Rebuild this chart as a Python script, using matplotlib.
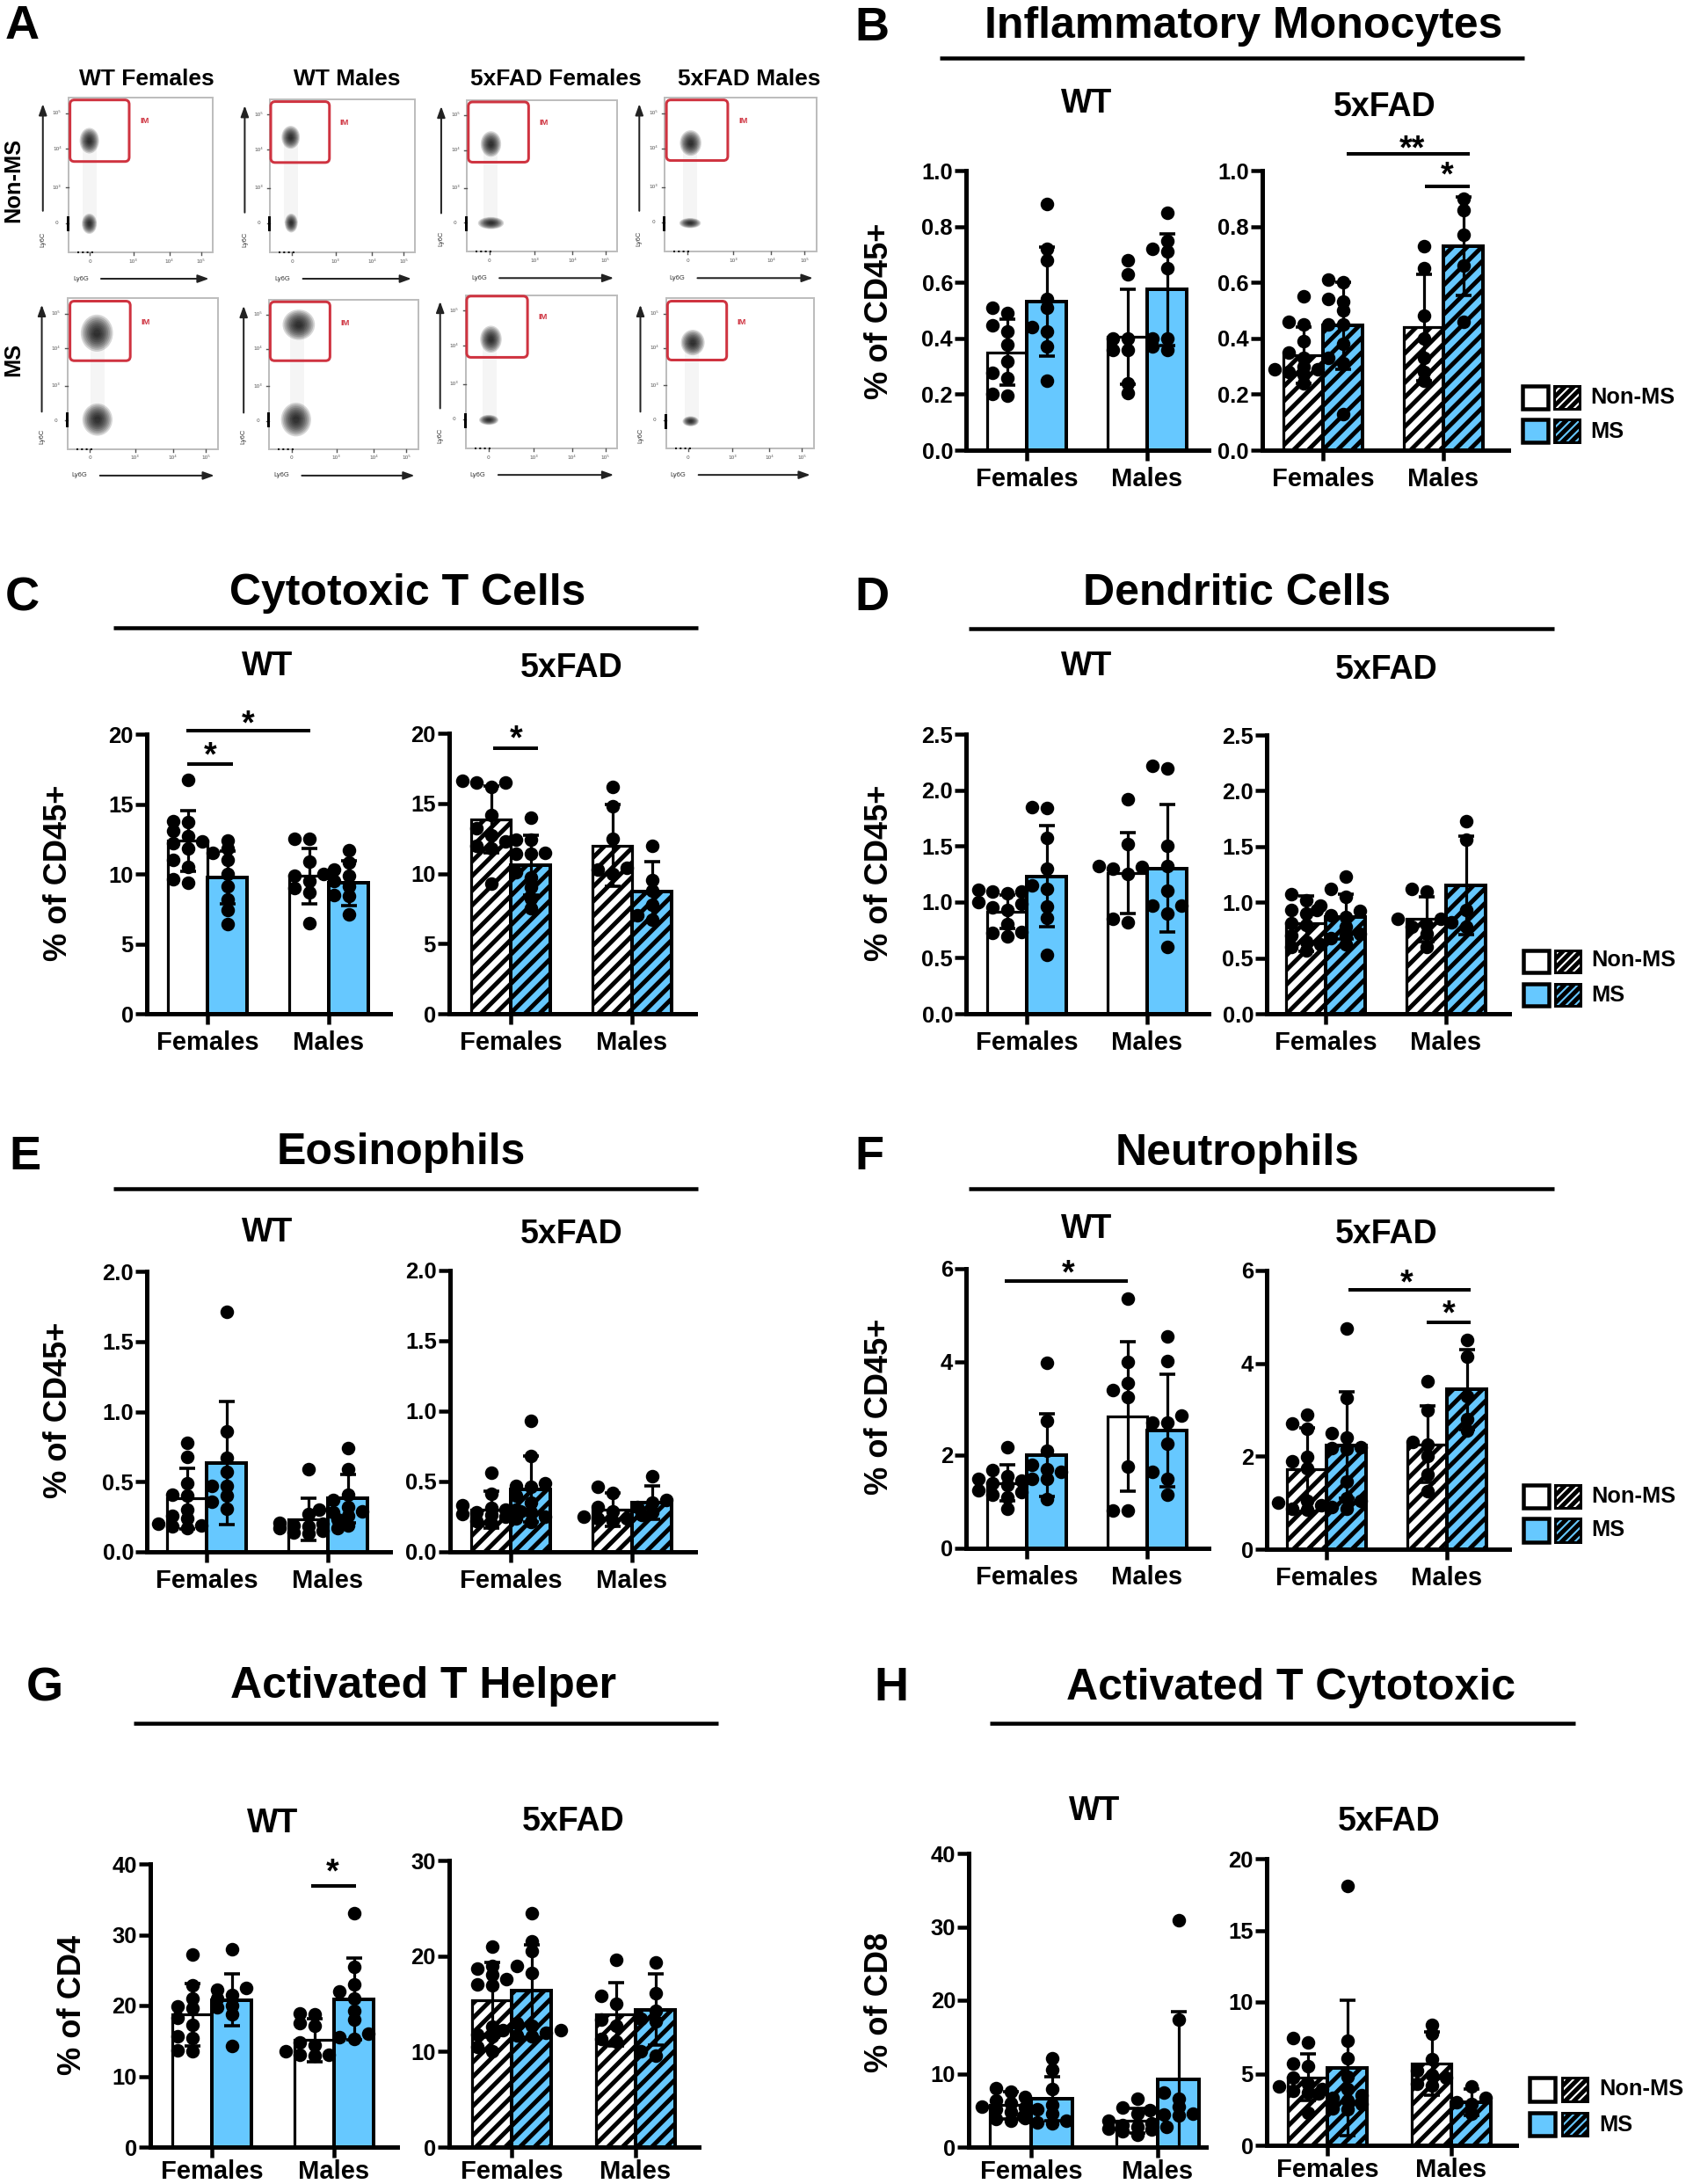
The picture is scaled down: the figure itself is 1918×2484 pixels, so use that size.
import matplotlib
matplotlib.use("Agg")
import matplotlib.pyplot as plt
from matplotlib.patches import Rectangle, Ellipse, FancyBboxPatch

W, H, DPI = 1918, 2484, 150
PT = 72 / DPI
plt.rcParams.update({'font.family': ['Liberation Sans', 'DejaVu Sans'], 'font.weight': 'bold',
                     'hatch.linewidth': 5 * PT, 'hatch.color': 'black'})
BLUE = '#66C8FF'

categories = ['Females', 'Males']
ticks_1 = [0.0, 0.2, 0.4, 0.6, 0.8, 1.0]
ticks_20 = [0, 5, 10, 15, 20]
ticks_25 = [0.0, 0.5, 1.0, 1.5, 2.0, 2.5]
ticks_2 = [0.0, 0.5, 1.0, 1.5, 2.0]
ticks_6 = [0, 2, 4, 6]
ticks_40 = [0, 10, 20, 30, 40]
ticks_30 = [0, 10, 20, 30]

# Each panel: Females Non-MS, Females MS, Males Non-MS, Males MS
B_wt_mean = [0.35, 0.53, 0.405, 0.575]
B_wt_sd = [0.117, 0.195, 0.17, 0.20]
B_wt_pts = [[0.49, 0.425, 0.377, 0.317, 0.277, 0.257, 0.194, 0.202, 0.51, 0.447],
            [0.88, 0.72, 0.68, 0.54, 0.51, 0.425, 0.44, 0.37, 0.25],
            [0.68, 0.63, 0.40, 0.40, 0.36, 0.36, 0.24, 0.205],
            [0.85, 0.75, 0.71, 0.72, 0.65, 0.40, 0.40, 0.37, 0.36]]
B_fad_mean = [0.34, 0.445, 0.44, 0.73]
B_fad_sd = [0.10, 0.155, 0.19, 0.175]
B_fad_pts = [[0.55, 0.46, 0.45, 0.39, 0.35, 0.33, 0.30, 0.29, 0.29, 0.28, 0.27, 0.24],
             [0.61, 0.60, 0.54, 0.53, 0.50, 0.45, 0.45, 0.38, 0.33, 0.31, 0.13],
             [0.73, 0.65, 0.48, 0.40, 0.33, 0.28, 0.25],
             [0.90, 0.86, 0.77, 0.66, 0.46]]

C_wt_mean = [12.36, 9.76, 9.85, 9.35]
C_wt_sd = [2.15, 1.9, 2.0, 1.6]
C_wt_pts = [[16.7, 13.8, 13.7, 13.1, 12.7, 12.3, 12.2, 11.8, 11.0, 10.5, 9.6, 9.4],
            [12.4, 11.8, 11.5, 11.0, 10.0, 9.1, 8.2, 7.4, 6.4],
            [12.5, 12.5, 10.9, 10.0, 9.9, 9.5, 9.0, 8.7, 6.5],
            [11.7, 10.8, 10.3, 9.9, 9.5, 9.1, 8.5, 8.4, 7.1]]
C_fad_mean = [13.85, 10.6, 12.0, 8.7]
C_fad_sd = [2.4, 2.15, 2.9, 2.15]
C_fad_pts = [[16.6, 16.5, 16.5, 16.2, 14.2, 13.2, 12.7, 12.3, 12.0, 11.8, 9.3],
             [14.0, 12.4, 12.4, 11.5, 11.4, 11.4, 10.1, 9.7, 9.0, 8.2, 7.5],
             [16.2, 14.8, 12.5, 10.4, 10.3, 10.0],
             [12.0, 9.5, 8.8, 7.8, 7.0, 6.7]]

D_wt_mean = [0.91, 1.23, 1.26, 1.30]
D_wt_sd = [0.15, 0.45, 0.36, 0.57]
D_wt_pts = [[1.11, 1.09, 1.09, 1.08, 1.0, 0.98, 0.95, 0.93, 0.8, 0.73, 0.72, 0.69],
            [1.85, 1.84, 1.57, 1.3, 1.15, 1.12, 0.96, 0.86, 0.53],
            [1.92, 1.52, 1.32, 1.31, 1.3, 1.25, 0.85, 0.82],
            [2.22, 2.19, 1.5, 1.32, 1.1, 0.97, 0.97, 0.9, 0.6]]
D_fad_mean = [0.81, 0.87, 0.85, 1.15]
D_fad_sd = [0.25, 0.20, 0.20, 0.44]
D_fad_pts = [[1.07, 1.02, 0.97, 0.93, 0.9, 0.81, 0.8, 0.7, 0.65, 0.62, 0.6, 0.57],
             [1.23, 1.12, 1.05, 0.93, 0.92, 0.88, 0.87, 0.78, 0.72, 0.7, 0.68, 0.62],
             [1.12, 1.1, 0.85, 0.85, 0.8, 0.78, 0.72, 0.6],
             [1.73, 1.56, 0.93, 0.82, 0.78]]

E_wt_mean = [0.38, 0.635, 0.23, 0.38]
E_wt_sd = [0.215, 0.44, 0.15, 0.17]
E_wt_pts = [[0.78, 0.68, 0.49, 0.41, 0.4, 0.3, 0.26, 0.24, 0.2, 0.19, 0.18, 0.17],
            [1.71, 0.86, 0.67, 0.57, 0.47, 0.47, 0.4, 0.36, 0.31],
            [0.59, 0.27, 0.23, 0.21, 0.2, 0.19, 0.18, 0.17, 0.17, 0.15, 0.14, 0.13],
            [0.74, 0.59, 0.41, 0.37, 0.32, 0.3, 0.29, 0.28, 0.26, 0.19]]
E_fad_mean = [0.30, 0.445, 0.30, 0.35]
E_fad_sd = [0.13, 0.235, 0.12, 0.12]
E_fad_pts = [[0.56, 0.41, 0.33, 0.31, 0.3, 0.29, 0.28, 0.27, 0.26, 0.25, 0.22, 0.2],
             [0.93, 0.68, 0.49, 0.47, 0.46, 0.4, 0.35, 0.3, 0.28, 0.25, 0.24, 0.21],
             [0.46, 0.42, 0.32, 0.29, 0.26, 0.25, 0.24, 0.24, 0.22],
             [0.54, 0.37, 0.35, 0.32, 0.28]]

F_wt_mean = [1.4, 2.0, 2.83, 2.53]
F_wt_sd = [0.39, 0.88, 1.6, 1.2]
F_wt_pts = [[2.17, 1.67, 1.55, 1.5, 1.45, 1.4, 1.35, 1.25, 1.2, 1.15, 1.1, 0.85],
            [3.98, 2.74, 2.1, 1.8, 1.7, 1.65, 1.5, 1.5, 1.05],
            [5.35, 4.0, 3.55, 3.4, 3.25, 1.75, 0.82, 0.82],
            [4.55, 4.02, 2.85, 2.7, 2.7, 2.25, 1.65, 1.5, 1.15]]
F_fad_mean = [1.72, 2.24, 2.26, 3.44]
F_fad_sd = [0.9, 1.14, 0.82, 0.86]
F_fad_pts = [[2.9, 2.7, 2.6, 1.98, 1.9, 1.75, 1.05, 1.0, 0.95, 0.88, 0.85],
             [4.75, 3.25, 2.5, 2.4, 2.2, 2.18, 2.15, 1.45, 1.1, 1.05, 0.9, 0.88],
             [3.62, 3.0, 2.3, 2.25, 2.0, 1.6, 1.25],
             [4.5, 4.15, 3.3, 2.8, 2.55]]

G_wt_mean = [18.7, 20.8, 15.1, 20.9]
G_wt_sd = [4.4, 3.7, 3.0, 5.8]
G_wt_pts = [[27.2, 22.8, 21.0, 19.9, 19.6, 18.3, 17.3, 15.7, 15.4, 13.7, 13.6],
            [28.0, 22.5, 22.2, 21.5, 21.0, 20.0, 19.8, 18.7, 14.3],
            [18.9, 18.7, 17.5, 17.2, 14.8, 14.4, 13.5, 13.1, 13.0, 12.9],
            [33.1, 25.5, 23.0, 22.0, 21.0, 19.2, 18.0, 16.0, 15.5, 15.3]]
G_fad_mean = [15.4, 16.35, 13.9, 14.4]
G_fad_sd = [3.9, 4.85, 3.3, 3.7]
G_fad_pts = [[21.0, 19.0, 18.7, 18.0, 17.6, 17.0, 16.9, 12.6, 11.8, 11.6, 10.5, 10.0],
             [24.5, 21.5, 20.5, 19.0, 18.2, 13.0, 12.7, 12.2, 12.2, 12.0, 11.7, 11.6],
             [19.6, 15.8, 15.0, 13.3, 12.7, 11.3, 11.0],
             [19.3, 16.1, 14.3, 13.4, 13.2, 10.0, 9.6]]

H_wt_mean = [5.7, 6.6, 3.6, 9.2]
H_wt_sd = [1.9, 3.0, 1.7, 9.3]
H_wt_pts = [[8.0, 7.5, 6.8, 6.3, 6.0, 5.5, 5.4, 5.1, 4.8, 4.0, 3.8, 3.6],
            [12.1, 10.5, 7.9, 5.8, 5.2, 4.5, 4.2, 3.6, 3.4, 3.2],
            [6.6, 5.4, 4.5, 3.6, 3.2, 3.0, 2.8, 2.7, 2.5, 2.4, 2.2, 1.7],
            [30.9, 17.4, 7.4, 6.6, 5.5, 5.0, 4.5, 4.4, 4.3]]
H_fad_mean = [4.75, 5.4, 5.7, 3.0]
H_fad_sd = [1.65, 4.7, 2.2, 0.9]
H_fad_pts = [[7.5, 7.2, 5.7, 5.5, 4.7, 4.3, 4.1, 3.9, 3.8, 3.7, 2.3],
             [18.1, 7.3, 6.1, 4.8, 3.9, 3.6, 3.5, 3.3, 3.1, 2.9, 2.6, 2.5],
             [8.4, 7.8, 6.0, 5.2, 4.9, 4.7, 4.3, 4.2],
             [4.1, 3.3, 3.0, 2.9, 2.2]]

# Flow cytometry panel A, read in zoomed-crop units
ZX, ZY = 1.633, 2.613
flow_frames = [(127, 395, 290, 750), (502, 771, 295, 750), (867, 1147, 297, 748), (1235, 1517, 290, 748),
               (125, 405, 887, 1335), (500, 777, 890, 1335), (865, 1147, 877, 1333), (1237, 1512, 887, 1333)]
flow_gates = [(130, 240, 297, 480), (503, 612, 302, 483), (870, 982, 303, 482), (1238, 1352, 297, 477),
              (130, 242, 895, 1072), (502, 613, 897, 1072), (867, 980, 880, 1062), (1240, 1350, 895, 1070)]
flow_upper = [(166, 418, 18, 38), (540, 408, 17, 34), (912, 428, 19, 38), (1283, 425, 20, 38),
              (180, 990, 30, 55), (555, 965, 30, 45), (912, 1008, 20, 40), (1287, 1018, 22, 38)]
flow_lower = [(166, 665, 14, 30), (541, 663, 12, 28), (912, 663, 24, 18), (1282, 663, 20, 15),
              (181, 1247, 28, 48), (550, 1247, 28, 50), (908, 1248, 18, 15), (1283, 1252, 15, 15)]
flow_cols = ['WT Females', 'WT Males', '5xFAD Females', '5xFAD Males']
flow_col_x = [273, 645, 1033, 1392]
flow_rows = ['Non-MS', 'MS']
flow_row_y = [535, 1068]


def swarm(values, scale, slot=16.5, gap=9.0):
    placed = []
    for v in sorted(values):
        best, best_d = 0, -1.0
        for s in (0, -1, 1, -2, 2):
            same = [abs(pv - v) * scale for pv, ps in placed if ps == s]
            d = min(same) if same else 1e9
            if d >= gap:
                best, best_d = s, d
                break
            if d > best_d:
                best, best_d = s, d
        placed.append((v, best))
    return [p[0] for p in placed], [p[1] * slot for p in placed]


fig = plt.figure(figsize=(W / DPI, H / DPI), dpi=DPI, facecolor='white')


def subpanel(pts, mean, sd, yticks, x0, y0, ytop, ofs, sep, barw, xw, hatched):
    ax = fig.add_axes([x0 / W, 1 - y0 / H, xw / W, (y0 - ytop) / H])
    ax.patch.set_alpha(0)
    ymax = yticks[-1]
    ax.set_xlim(-ofs / sep, (xw - ofs) / sep)
    ax.set_ylim(0, ymax)
    scale = (y0 - ytop) / ymax
    wd = barw / sep
    for i, (vals, m, s) in enumerate(zip(pts, mean, sd)):
        group = i // 2
        ms = i % 2 == 1
        x = group + (wd / 2 if ms else -wd / 2)
        ax.bar(x, m, width=wd, facecolor=BLUE if ms else 'white', edgecolor='black',
               linewidth=(4.0 if ms else 3.2) * PT, hatch='///' if hatched else None, zorder=2)
        ax.errorbar(x, m, yerr=s, color='black', elinewidth=3.2 * PT, capsize=9 * PT,
                    capthick=3.6 * PT, zorder=3, clip_on=False)
        yy, off = swarm(vals, scale)
        ax.scatter([x + o / sep for o in off], yy, s=(15.5 * PT) ** 2, color='black',
                   linewidths=0, zorder=4, clip_on=False)
    for sp in ('top', 'right'):
        ax.spines[sp].set_visible(False)
    for sp in ('left', 'bottom'):
        ax.spines[sp].set_linewidth(5 * PT)
    ax.set_xticks([0, 1], categories)
    ax.set_yticks(yticks, ['%.1f' % t if ymax <= 2.5 else '%d' % t for t in yticks])
    ax.tick_params(axis='y', length=13 * PT, width=4.5 * PT, labelsize=12.3, pad=2 * PT)
    ax.tick_params(axis='x', length=12 * PT, width=4.5 * PT, labelsize=14,
                   pad=(2 if y0 > 2400 else 7) * PT)
    return ax


panels = [
    (B_wt_pts, B_wt_mean, B_wt_sd, ticks_1, 1099, 512, 194, 69, 137, 45, 276, False),
    (B_fad_pts, B_fad_mean, B_fad_sd, ticks_1, 1436, 512, 194, 69, 137, 45, 280, True),
    (C_wt_pts, C_wt_mean, C_wt_sd, ticks_20, 167, 1153, 835, 69, 138, 45, 277, False),
    (C_fad_pts, C_fad_mean, C_fad_sd, ticks_20, 511, 1153, 834, 70, 138, 45, 280, True),
    (D_wt_pts, D_wt_mean, D_wt_sd, ticks_25, 1099, 1153, 835, 69, 137, 45, 276, False),
    (D_fad_pts, D_fad_mean, D_fad_sd, ticks_25, 1441, 1153, 836, 67, 137, 45, 276, True),
    (E_wt_pts, E_wt_mean, E_wt_sd, ticks_2, 167, 1765, 1446, 68, 138, 45, 277, False),
    (E_fad_pts, E_fad_mean, E_fad_sd, ticks_2, 512, 1765, 1445, 69, 138, 45, 279, True),
    (F_wt_pts, F_wt_mean, F_wt_sd, ticks_6, 1099, 1761, 1443, 69, 137, 45, 276, False),
    (F_fad_pts, F_fad_mean, F_fad_sd, ticks_6, 1441, 1762, 1445, 68, 137, 45, 276, True),
    (G_wt_pts, G_wt_mean, G_wt_sd, ticks_40, 171, 2442, 2120, 70, 139, 45, 281, False),
    (G_fad_pts, G_fad_mean, G_fad_sd, ticks_30, 511, 2442, 2116, 71, 141, 45, 284, True),
    (H_wt_pts, H_wt_mean, H_wt_sd, ticks_40, 1102, 2442, 2108, 71, 144, 47, 270, False),
    (H_fad_pts, H_fad_mean, H_fad_sd, ticks_20, 1441, 2440, 2114, 69, 141, 45, 284, True),
]
for p in panels:
    subpanel(*p)

# Overlay in figure pixels for the annotations
ov = fig.add_axes([0, 0, 1, 1], zorder=10)
ov.set_xlim(0, W)
ov.set_ylim(H, 0)
ov.axis('off')
ov.patch.set_alpha(0)


def label(x, y, s, size, rotation=0, family=None, color='black', weight='bold', ha='center'):
    """Centre a capital-height label on (x, y) pixels."""
    px = size / PT
    dy = 0.36 * px
    if rotation == 90:
        ov.text(x, y, s, fontsize=size, rotation=90, ha='center', va='center', color=color, weight=weight)
    else:
        kw = {'family': family} if family else {}
        ov.text(x, y + dy, s, fontsize=size, ha=ha, va='baseline', color=color, weight=weight, **kw)


titles = [('Inflammatory Monocytes', 1415, 25, 1069, 1734, 66), ('Cytotoxic T Cells', 464, 670, 129, 794, 714),
          ('Dendritic Cells', 1407, 670, 1102, 1768, 715), ('Eosinophils', 456, 1306, 129, 794, 1352),
          ('Neutrophils', 1408, 1307, 1102, 1768, 1352), ('Activated T Helper', 482, 1913, 152, 817, 1960),
          ('Activated T Cytotoxic', 1469, 1915, 1126, 1792, 1960)]
for s, x, y, a, b, ly in titles:
    label(x, y, s, 24)
    ov.plot([a, b], [ly, ly], color='black', lw=4.5 * PT, solid_capstyle='butt')

letters = [('A', 25, 25), ('B', 992, 27), ('C', 25, 675), ('D', 992, 675), ('E', 28, 1310), ('F', 989, 1310),
           ('G', 51, 1915), ('H', 1014, 1915)]
for s, x, y in letters:
    label(x, y, s, 26)

groups = [('WT', 1236, 114), ('5xFAD', 1575, 119), ('WT', 304, 754), ('5xFAD', 650, 756), ('WT', 1236, 754),
          ('5xFAD', 1577, 759), ('WT', 304, 1398), ('5xFAD', 650, 1400), ('WT', 1236, 1394), ('5xFAD', 1577, 1400),
          ('WT', 310, 2071), ('5xFAD', 652, 2069), ('WT', 1245, 2057), ('5xFAD', 1580, 2068)]
for s, x, y in groups:
    label(x, y, s, 18)

ylabels = [('% of CD45+', 1000, 354), ('% of CD45+', 67, 993), ('% of CD45+', 1000, 993), ('% of CD45+', 67, 1604),
           ('% of CD45+', 1000, 1600), ('% of CD4', 83, 2280), ('% of CD8', 1000, 2277)]
for s, x, y in ylabels:
    label(x, y, s, 17.4, rotation=90)

sig = [(1532, 1672, 175, 1606, 165, '**'), (1621, 1672, 212, 1646, 195, '*'), (212, 353, 831, 282, 819, '*'),
       (213, 265, 869, 239, 855, '*'), (561, 612, 851, 587, 836, '*'), (1143, 1283, 1457, 1215, 1444, '*'),
       (1534, 1673, 1467, 1600, 1455, '*'), (1623, 1673, 1504, 1648, 1490, '*'), (354, 405, 2145, 378, 2125, '*')]
for a, b, ly, sx, sy, s in sig:
    ov.plot([a, b], [ly, ly], color='black', lw=4 * PT, solid_capstyle='butt')
    ov.text(sx, sy + 0.42 * 18 / PT, s, fontsize=18, ha='center', va='baseline')

legends = [(1732, 1768, 439, 465, 477, 503, 1809, 450, 489), (1733, 1769, 1081, 1106, 1119, 1144, 1810, 1090, 1130),
           (1733, 1769, 1689, 1715, 1727, 1754, 1810, 1700, 1738), (1740, 1777, 2363, 2390, 2403, 2429, 1819, 2374, 2415)]
for x1, x2, a, b, c, d, tx, ty1, ty2 in legends:
    for top, bot, col in ((a, b, 'white'), (c, d, BLUE)):
        ov.add_patch(Rectangle((x1, top), 29, bot - top, facecolor=col, edgecolor='black', lw=4.5 * PT))
        ov.add_patch(Rectangle((x2, top), 29, bot - top, facecolor=col, edgecolor='black', lw=3 * PT, hatch='/////'))
    label(tx, ty1, 'Non-MS', 12.2, ha='left')
    label(tx, ty2, 'MS', 12.2, ha='left')

# Panel A
for s, x in zip(flow_cols, flow_col_x):
    label(x / ZX, 87, s, 12.7)
for s, y in zip(flow_rows, flow_row_y):
    label(15, y / ZY, s, 12.2, rotation=90)

for fr, g, up, lo in zip(flow_frames, flow_gates, flow_upper, flow_lower):
    l, r, t, b = fr[0] / ZX, fr[1] / ZX, fr[2] / ZY, fr[3] / ZY
    ov.add_patch(Rectangle((l, t), r - l, b - t, fill=False, edgecolor='#bdbdbd', lw=2 * PT))
    # faint column of events between both populations
    cx = (up[0] + lo[0]) / 2 / ZX
    ov.add_patch(Rectangle((cx - 8, up[1] / ZY), 16, (lo[1] - up[1]) / ZY, facecolor='#999999', alpha=0.09, lw=0))
    for (ex, ey, rx, ry) in (up, lo):
        for k in range(9):
            f = 1 - k / 10
            ov.add_patch(Ellipse((ex / ZX, ey / ZY), 2 * rx * f / ZX, 2 * ry * f / ZY, facecolor='black',
                                 alpha=0.16, lw=0))
    gl, gr, gt, gb = g[0] / ZX, g[1] / ZX, g[2] / ZY, g[3] / ZY
    ov.add_patch(FancyBboxPatch((gl, gt), gr - gl, gb - gt, boxstyle='round,pad=0,rounding_size=5',
                                fill=False, edgecolor='#CF3340', lw=3 * PT, zorder=5))
    ov.text(gr + 12, gt + 24, 'IM', fontsize=4.5, color='#CF3340', ha='left', va='center')
    # axis arrows and small labels
    ov.annotate('', xy=(l - 29, t + 3), xytext=(l - 29, t + 133),
                arrowprops=dict(arrowstyle='-|>,head_width=0.18,head_length=0.5', color='#222222', lw=2 * PT))
    ov.annotate('', xy=(r, b + 30), xytext=(l + 33, b + 30),
                arrowprops=dict(arrowstyle='-|>,head_width=0.18,head_length=0.5', color='#222222', lw=2 * PT))
    ov.text(l - 29, b - 15, 'Ly6C', fontsize=3.6, rotation=90, ha='center', va='center', color='#333333', weight='normal')
    ov.text(l + 14, b + 30, 'Ly6G', fontsize=3.6, ha='center', va='center', color='#333333', weight='normal')
    for frac, s in zip((0.10, 0.33, 0.58, 0.81), ('10\u2075', '10\u2074', '10\u00b3', '0')):
        ov.text(l - 13, t + frac * (b - t), s, fontsize=2.8, ha='center', va='center', color='#555555',
                family='DejaVu Sans', weight='normal')
        ov.plot([l - 3, l], [t + frac * (b - t)] * 2, color='#555555', lw=1.4 * PT)
    for frac, s in zip((0.15, 0.45, 0.70, 0.92), ('0', '10\u00b3', '10\u2074', '10\u2075')):
        ov.text(l + frac * (r - l), b + 10, s, fontsize=2.8, ha='center', va='center', color='#555555',
                family='DejaVu Sans', weight='normal')
        ov.plot([l + frac * (r - l)] * 2, [b, b + 3], color='#555555', lw=1.4 * PT)
    ov.plot([l - 1, l - 1], [lo[1] / ZY - 7, lo[1] / ZY + 7], color='black', lw=3 * PT)
    ov.plot([l + 10, l + 28], [b, b], color='black', lw=2 * PT, ls=':')

fig.savefig('out.png', dpi=DPI, facecolor='white')
